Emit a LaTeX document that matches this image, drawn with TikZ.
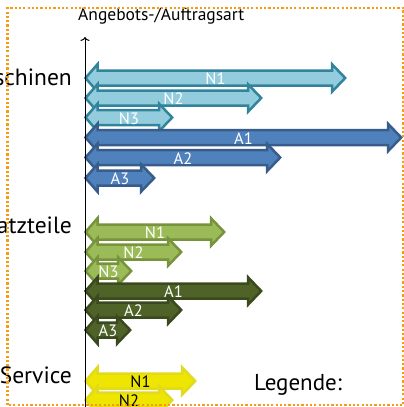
\documentclass[tikz,border=0pt]{standalone}
\usepackage{fontspec}
\setmainfont{PT Sans}
\usetikzlibrary{arrows.meta}
\definecolor{tealF}{HTML}{93CDDD}
\definecolor{tealB}{HTML}{31849B}
\definecolor{blueF}{HTML}{4F81BD}
\definecolor{blueB}{HTML}{385D8A}
\definecolor{lgreenF}{HTML}{9BBB59}
\definecolor{lgreenB}{HTML}{77933C}
\definecolor{dgreenF}{HTML}{4F6228}
\definecolor{dgreenB}{HTML}{3B4A1E}
\definecolor{yelF}{HTML}{EEE500}
\definecolor{yelB}{HTML}{E2DA1C}
\definecolor{frameC}{HTML}{F59C12}
\tikzset{
  tealS/.style={fill=tealF, draw=tealB},
  bluS/.style={fill=blueF, draw=blueB},
  lgreenS/.style={fill=lgreenF, draw=lgreenB},
  dgreenS/.style={fill=dgreenF, draw=dgreenB},
  yelS/.style={fill=yelF, draw=yelB},
  arrbody/.style={line width=2.5pt, line join=miter},
  lbl/.style={font=\fontsize{16.5}{16.5}\selectfont, text=white, inner sep=0pt},
  lblk/.style={lbl, text=black},
  cat/.style={font=\fontsize{23.5}{23.5}\selectfont, anchor=east, inner sep=0pt},
  framestyle/.style={draw=frameC, line width=2.4pt, dash pattern=on 2.2pt off 2.1pt},
}
% #1 style, #2 y centre, #3 right tip (outer), #4 label style, #5 node name, #6 label
\newcommand\dblarr[6]{%
  \draw[arrbody,#1] (85.5,#2) -- (97.5,{#2-13.75}) -- (97.5,{#2-7.5})
    -- ({#3-15},{#2-7.5}) -- ({#3-15},{#2-13.75}) -- ({#3-1.8},#2)
    -- ({#3-15},{#2+13.75}) -- ({#3-15},{#2+7.5}) -- (97.5,{#2+7.5})
    -- (97.5,{#2+13.75}) -- cycle;
  \node[#4] (#5) at ({(84+#3)/2},{#2+1}) {#6};}
\begin{document}
\begin{tikzpicture}[x=1pt,y=-1pt]
\useasboundingbox (0,0) rectangle (404,407);
\clip (0,0) rectangle (404,407);
\fill[white] (0,0) rectangle (404,407);
% Maschinen
\dblarr{tealS}{78}{347}{lbl}{mN1}{N1}
\dblarr{tealS}{98}{263}{lbl}{mN2}{N2}
\dblarr{tealS}{117.5}{174}{lbl}{mN3}{N3}
\dblarr{bluS}{137.5}{403}{lbl}{mA1}{A1}
\dblarr{bluS}{157.5}{282}{lbl}{mA2}{A2}
\dblarr{bluS}{178}{156}{lbl}{mA3}{A3}
% Ersatzteile
\dblarr{lgreenS}{232}{226}{lbl}{eN1}{N1}
\dblarr{lgreenS}{252}{183}{lbl}{eN2}{N2}
\dblarr{lgreenS}{271}{133}{lbl}{eN3}{N3}
\dblarr{dgreenS}{291}{263}{lbl}{eA1}{A1}
\dblarr{dgreenS}{310}{183}{lbl}{eA2}{A2}
\dblarr{dgreenS}{330}{132}{lbl}{eA3}{A3}
% Service
\dblarr{yelS}{381}{197}{lblk}{sN1}{N1}
\dblarr{yelS}{400}{174}{lblk}{sN2}{N2}
% axis
\coordinate (axb) at (85,410);
\coordinate (axt) at (85,37);
\draw[line width=1pt, -{To[length=4pt,width=9pt]}] (axb) -- (axt);
\node[font=\fontsize{17.5}{17.5}\selectfont, anchor=west, inner sep=0pt] (title) at (78,16.5) {Angebots-/Auftragsart};
\node[cat] (maschinen) at (72,77) {Maschinen};
\node[cat] (ersatz) at (72,225) {Ersatzteile};
\node[cat] (service) at (72,375) {Service};
\node[font=\fontsize{23}{23}\selectfont, anchor=west, inner sep=0pt] (legende) at (254,385) {Legende:};
% frame
\draw[framestyle] (7.5,405) -- (7.5,8) -- (403.5,8) -- (403.5,405) -- cycle;
\end{tikzpicture}
\end{document}
